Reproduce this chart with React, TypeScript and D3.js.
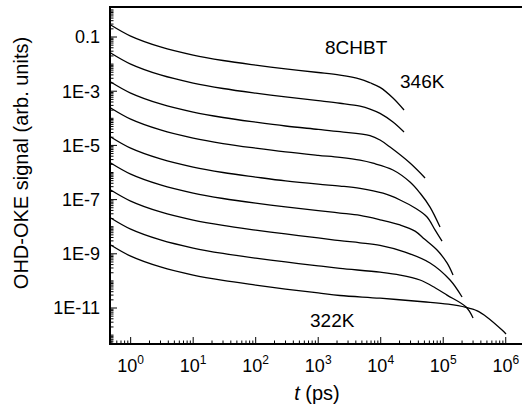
import * as d3 from 'd3';

// OHD-OKE decays of 8CHBT (t in ps, signal in arb. units)
const curve1 = [[0.48, 0.277], [1, 0.108], [3, 0.043], [10, 0.0215], [30, 0.0136], [100, 0.00918], [300, 0.00665], [1000, 0.0049], [2230, 0.0039], [4670, 0.0028], [6740, 0.00205], [9750, 0.00138], [15700, 5.6e-4], [23600, 2.02e-4]];
const curve2 = [[0.48, 0.0257], [1, 0.01], [3, 0.00398], [10, 0.002], [30, 0.00126], [100, 8.5e-4], [300, 6.2e-4], [1000, 4.5e-4], [2230, 3.6e-4], [4670, 2.8e-4], [6740, 2.2e-4], [9750, 1.52e-4], [15700, 7.3e-5], [23600, 3.12e-5]];
const curve3 = [[0.48, 2.18e-3], [1, 8.5e-4], [3, 3.38e-4], [10, 1.69e-4], [30, 1.07e-4], [100, 7.2e-5], [300, 5.2e-5], [1000, 3.9e-5], [2230, 3.2e-5], [6740, 2.3e-5], [9750, 1.58e-5], [14100, 8.7e-6], [29400, 2.24e-6], [51200, 6.3e-7]];
const curve4 = [[0.48, 2.4e-4], [1, 9.3e-5], [3, 3.72e-5], [10, 1.86e-5], [30, 1.17e-5], [100, 7.9e-6], [300, 5.75e-6], [1000, 4.3e-6], [2230, 3.6e-6], [4670, 2.85e-6], [7530, 2.2e-6], [15700, 1.24e-6], [29400, 4.46e-7], [42500, 1.75e-7], [61500, 5.3e-8], [88900, 9.7e-9]];
const curve5 = [[0.48, 2.04e-5], [1, 7.9e-6], [3, 3.16e-6], [10, 1.58e-6], [30, 1.0e-6], [100, 6.8e-7], [300, 4.9e-7], [1000, 3.7e-7], [2230, 3.16e-7], [4670, 2.6e-7], [10900, 1.72e-7], [20400, 9.7e-8], [35400, 4.9e-8], [55100, 2.28e-8], [73900, 7.6e-9], [95700, 2.96e-9]];
const curve6 = [[0.48, 2.24e-6], [1, 8.7e-7], [3, 3.48e-7], [10, 1.74e-7], [30, 1.1e-7], [100, 7.4e-8], [300, 5.4e-8], [1000, 3.95e-8], [2230, 3.2e-8], [4670, 2.6e-8], [9750, 1.8e-8], [20400, 1.16e-8], [35400, 6.9e-9], [50000, 3.5e-9], [79600, 1.38e-9], [115000, 4.6e-10], [143500, 1.65e-10]];
const curve7 = [[0.48, 2.26e-7], [1, 8.8e-8], [3, 3.5e-8], [10, 1.75e-8], [30, 1.11e-8], [100, 7.5e-9], [300, 5.4e-9], [1000, 3.84e-9], [2230, 3.05e-9], [4670, 2.55e-9], [9750, 2.05e-9], [24500, 1.16e-9], [61500, 4.6e-10], [128500, 1.08e-10], [200000, 2.55e-11]];
const curve8 = [[0.48, 2.09e-8], [1, 8.1e-9], [3, 3.24e-9], [10, 1.63e-9], [30, 1.03e-9], [100, 6.9e-10], [300, 5.0e-10], [1000, 3.6e-10], [2230, 2.9e-10], [9750, 2.1e-10], [20400, 1.65e-10], [42500, 1.08e-10], [75000, 5.5e-11], [115000, 3.0e-11], [232000, 1.09e-11], [300000, 4.3e-12]];
const curve9 = [[0.48, 2.11e-9], [1, 8.2e-10], [3, 3.27e-10], [10, 1.64e-10], [30, 1.04e-10], [100, 7.0e-11], [300, 5.0e-11], [1000, 3.6e-11], [2230, 2.9e-11], [9750, 2.3e-11], [47500, 1.7e-11], [120000, 1.38e-11], [232000, 1.05e-11], [350000, 7.8e-12], [502000, 4.6e-12], [873000, 1.54e-12], [1010000, 1.1e-12]];

const curves = [curve1, curve2, curve3, curve4, curve5, curve6, curve7, curve8, curve9];

const xTickExps = [0, 1, 2, 3, 4, 5, 6];
const yTickLabels = ['0.1', '1E-3', '1E-5', '1E-7', '1E-9', '1E-11'];
const yTickValues = [1e-1, 1e-3, 1e-5, 1e-7, 1e-9, 1e-11];

const W = 522;
const H = 413;
const left = 110, right = 522, top = 7, bottom = 344;
const font = 'Liberation Sans, Arial, Helvetica, sans-serif';

export default function App() {
  const x = d3.scaleLog().domain([0.467, 1.82e6]).range([left, right]);
  const y = d3.scaleLog().domain([4.7e-13, 1.28]).range([bottom, top]);

  const line = d3.line<number[]>()
    .x(d => x(d[0]))
    .y(d => y(d[1]))
    .curve(d3.curveCatmullRom.alpha(0.5));

  // minor ticks 2..9 per decade
  const xMinor: number[] = [];
  for (let e = -1; e <= 6; e++) {
    for (let m = 2; m <= 9; m++) {
      const v = m * Math.pow(10, e);
      if (v >= x.domain()[0] && v <= x.domain()[1]) xMinor.push(v);
    }
  }
  const yMinor: number[] = [];
  for (let e = -13; e <= 0; e++) {
    for (let m = 1; m <= 9; m++) {
      const v = m * Math.pow(10, e);
      if (v >= y.domain()[0] && v <= y.domain()[1] && !yTickValues.some(t => Math.abs(t - v) / t < 1e-6)) yMinor.push(v);
    }
  }

  return (
    <svg width={W} height={H} style={{ position: 'absolute', left: 0, top: 0, background: '#fff' }}
      fontFamily={font}>
      <rect x={0} y={0} width={W} height={H} fill="#fff" />

      {curves.map((c, i) => (
        <path key={i} d={line(c) || ''} fill="none" stroke="#000" strokeWidth={1.3} />
      ))}

      {/* axes frame */}
      <line x1={left} x2={left} y1={top - 1} y2={bottom + 1} stroke="#000" strokeWidth={2} />
      <line x1={left - 1} x2={right} y1={top} y2={top} stroke="#000" strokeWidth={2} />
      <line x1={left - 1} x2={right} y1={bottom} y2={bottom} stroke="#000" strokeWidth={2} />

      {/* x ticks */}
      {xMinor.map((v, i) => (
        <line key={'xm' + i} x1={x(v)} x2={x(v)} y1={bottom} y2={bottom - 3.5} stroke="#000" strokeWidth={1} />
      ))}
      {xTickExps.map(e => (
        <g key={'xt' + e}>
          <line x1={x(Math.pow(10, e))} x2={x(Math.pow(10, e))} y1={bottom} y2={bottom - 7} stroke="#000" strokeWidth={1} />
          <text x={x(Math.pow(10, e))} y={372} textAnchor="middle" fontSize={18}>
            10<tspan fontSize={12} dy={-8}>{e}</tspan>
          </text>
        </g>
      ))}

      {/* y ticks */}
      {yMinor.map((v, i) => (
        <line key={'ym' + i} x1={left} x2={left + 3.5} y1={y(v)} y2={y(v)} stroke="#000" strokeWidth={1} />
      ))}
      {yTickValues.map((v, i) => (
        <g key={'yt' + i}>
          <line x1={left} x2={left + 7} y1={y(v)} y2={y(v)} stroke="#000" strokeWidth={1} />
          <text x={100} y={y(v)} dy="0.35em" textAnchor="end" fontSize={18}>{yTickLabels[i]}</text>
        </g>
      ))}

      {/* annotations */}
      <text x={325} y={54} fontSize={19}>8CHBT</text>
      <text x={400} y={88} fontSize={19}>346K</text>
      <text x={310} y={327} fontSize={19}>322K</text>

      {/* axis titles */}
      <text x={317} y={400} textAnchor="middle" fontSize={20}>
        <tspan fontStyle="italic">t</tspan> (ps)
      </text>
      <text transform="translate(28,163) rotate(-90)" textAnchor="middle" fontSize={20}>
        OHD-OKE signal (arb. units)
      </text>
    </svg>
  );
}
